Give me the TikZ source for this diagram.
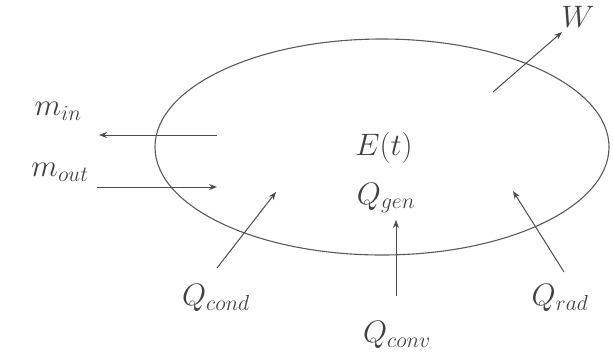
\documentclass[tikz,border=0pt]{standalone}
\usepackage{fix-cm}
\usetikzlibrary{arrows.meta}

\begin{document}
\begin{tikzpicture}[x=1pt, y=-1pt,
      lbl/.style={inner sep=0pt, font=\fontsize{31}{36}\selectfont, text=black!75},
      flow/.style={draw=black!70, line width=1pt, -{Stealth[length=8pt, width=6pt]}}]
    \useasboundingbox (0,0) rectangle (613,360);
    % control volume
    \draw[black!65, line width=1.1pt] (382,147) ellipse [x radius=227, y radius=108];
    \node[lbl] (et) at (384,148) {$E(t)$};
    \node[lbl] (qgen) at (386,198) {$Q_{gen}$};
    % mass flows
    \node[lbl] (min) at (58,111) {$m_{in}$};
    \node[lbl] (mout) at (60,172) {$m_{out}$};
    \coordinate (minS) at (217,135);
    \coordinate (minE) at (99,135);
    \coordinate (moutS) at (97,187);
    \coordinate (moutE) at (217,187);
    \draw[flow] (minS) -- (minE);
    \draw[flow] (moutS) -- (moutE);
    % work
    \node[lbl] (w) at (578,17) {$W$};
    \coordinate (wS) at (493,92);
    \coordinate (wE) at (562,32);
    \draw[flow] (wS) -- (wE);
    % heat flows
    \node[lbl] (qcond) at (216,298) {$Q_{cond}$};
    \coordinate (qcondS) at (217,268);
    \coordinate (qcondE) at (276,192);
    \draw[flow] (qcondS) -- (qcondE);
    \node[lbl] (qconv) at (397,335) {$Q_{conv}$};
    \coordinate (qconvS) at (396,296);
    \coordinate (qconvE) at (396,220);
    \draw[flow, line width=0.6pt] (qconvS) -- (qconvE);
    \node[lbl] (qrad) at (560,298) {$Q_{rad}$};
    \coordinate (qradS) at (564,272);
    \coordinate (qradE) at (513,191);
    \draw[flow] (qradS) -- (qradE);
\end{tikzpicture}
\end{document}
